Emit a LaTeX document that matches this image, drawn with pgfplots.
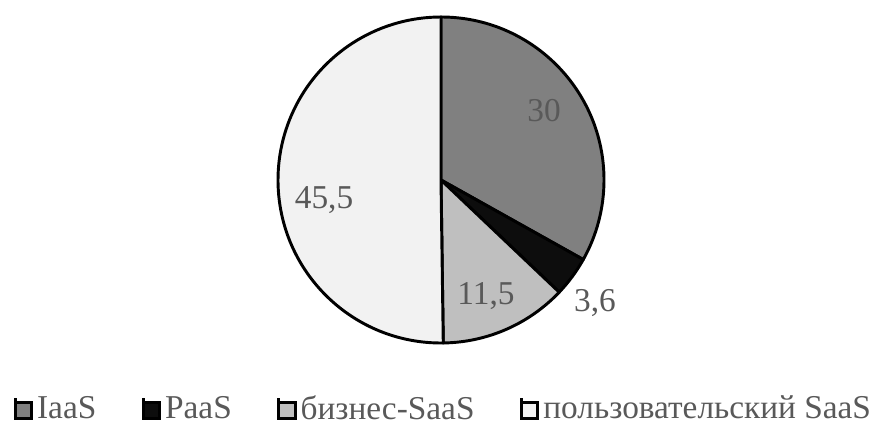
\documentclass[border=0pt]{standalone}
\usepackage{fontspec}
\setmainfont{Liberation Serif}
\usepackage{pgfplots}
\pgfplotsset{compat=1.18}

\definecolor{cIaaS}{HTML}{808080}
\definecolor{cPaaS}{HTML}{0D0D0D}
\definecolor{cBiz}{HTML}{BFBFBF}
\definecolor{cUser}{HTML}{F2F2F2}
\definecolor{labgray}{HTML}{595959}

% sum of all shares
\def\total{90.6}

\begin{document}
\begin{tikzpicture}
\begin{axis}[
    scale only axis,
    width=658.5pt, height=318.75pt,
    xmin=0, xmax=878, ymin=0, ymax=425,
    hide axis, clip=false,
    /pgf/number format/assume math mode=true,
    /pgf/number format/use comma,
    legend columns=4,
    legend style={
        at={(axis cs:443,16.5)}, anchor=center,
        draw=none, fill=none,
        font=\fontsize{25}{30}\selectfont,
        text=labgray,
        nodes={inner sep=1pt},
        /tikz/every odd column/.append style={column sep=2pt},
        /tikz/every even column/.append style={column sep=33pt},
    },
    legend image code/.code={
        \path (0pt,-8pt) -- (0pt,8pt);
        \draw[#1] (0pt,-7.6pt) rectangle (12.4pt,4.8pt);
    },
]
% value / colour / label x / label y
\foreach \v/\c/\lx/\ly [remember=\e as \s (initially 90)] in
    {30/cIaaS/544/314.5, 3.6/cPaaS/595/121.5, 11.5/cBiz/486/128.5, 45.5/cUser/324/224.5}{
    \pgfmathsetmacro{\e}{\s-\v/\total*360}
    \edef\wedge{\noexpand\filldraw[fill=\c, draw=black, line width=2.2pt, line join=round]
        (axis cs:441,245) -- ++(\s:122.25pt)
        arc[start angle=\s, end angle=\e, radius=122.25pt] -- cycle;
        \noexpand\node[text=labgray, font=\noexpand\fontsize{25}{30}\noexpand\selectfont]
        at (axis cs:\lx,\ly) {\noexpand\pgfmathprintnumber{\v}};}
    \wedge
}
\addlegendimage{fill=cIaaS, draw=black, line width=2.2pt}
\addlegendentry{IaaS}
\addlegendimage{fill=cPaaS, draw=black, line width=2.2pt}
\addlegendentry{PaaS}
\addlegendimage{fill=cBiz, draw=black, line width=2.2pt}
\addlegendentry{бизнес-SaaS}
\addlegendimage{fill=cUser, draw=black, line width=2.2pt}
\addlegendentry{пользовательский SaaS}
\end{axis}
\pgfresetboundingbox
\useasboundingbox (current axis.south west) rectangle (current axis.north east);
\end{tikzpicture}
\end{document}
